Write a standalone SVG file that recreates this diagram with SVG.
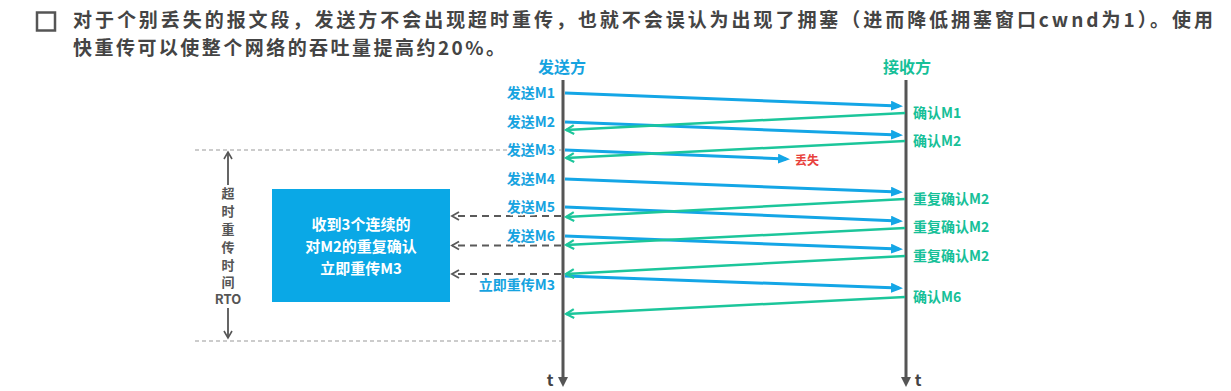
<svg xmlns="http://www.w3.org/2000/svg" width="1231" height="391" viewBox="0 0 1231 391">
<style>
text{font-family:"Noto Sans CJK SC","Noto Sans",sans-serif;font-weight:bold}
.title{font-size:19px;fill:#444}
.hdrS{font-size:16px;fill:#16a3e0;text-anchor:middle}
.hdrR{font-size:16px;fill:#16c098;text-anchor:middle}
.sl{font-size:14px;fill:#16a3e0;text-anchor:end;stroke:#fff;stroke-width:3;paint-order:stroke;stroke-linejoin:round}
.rl{font-size:14px;fill:#16c098;stroke:#fff;stroke-width:3;paint-order:stroke;stroke-linejoin:round}
.lost{font-size:12px;fill:#e8413c;stroke:#fff;stroke-width:3;paint-order:stroke;stroke-linejoin:round}
.box{font-size:15px;fill:#fff;text-anchor:middle}
.rto{font-size:13px;fill:#555;text-anchor:middle}
.t{font-size:16px;fill:#444;text-anchor:middle}
.blue{stroke:#14a6e6;stroke-width:3;fill:none;marker-end:url(#ab)}
.green{stroke:#1cc69b;stroke-width:2.5;fill:none;marker-end:url(#ag)}
.dash{stroke:#5a5a5a;stroke-width:2;stroke-dasharray:7 5;fill:none;marker-end:url(#ad)}
.thin{stroke:#9a9a9a;stroke-width:1.2;stroke-dasharray:4 3;fill:none}
.axis{stroke:#555;stroke-width:3;fill:none;marker-end:url(#ax)}
.rtoa{stroke:#555;stroke-width:1.8;fill:none;marker-end:url(#ar)}
</style>
<defs>
<marker id="ab" markerUnits="userSpaceOnUse" markerWidth="12" markerHeight="10" refX="8" refY="5" orient="auto"><path d="M0,0 L12,5 L0,10 z" fill="#14a6e6"/></marker>
<marker id="ag" markerUnits="userSpaceOnUse" markerWidth="12" markerHeight="12" refX="9" refY="6" orient="auto"><path d="M1,1.5 L9,6 L1,10.5" fill="none" stroke="#1cc69b" stroke-width="2.2"/></marker>
<marker id="ad" markerUnits="userSpaceOnUse" markerWidth="12" markerHeight="12" refX="9" refY="6" orient="auto"><path d="M2,2 L9,6 L2,10" fill="none" stroke="#5a5a5a" stroke-width="1.8"/></marker>
<marker id="ax" markerUnits="userSpaceOnUse" markerWidth="12" markerHeight="12" refX="6" refY="6" orient="auto"><path d="M0,1 L10,6 L0,11 z" fill="#555"/></marker>
<marker id="ar" markerUnits="userSpaceOnUse" markerWidth="12" markerHeight="12" refX="9" refY="6" orient="auto"><path d="M2,2 L9,6 L2,10" fill="none" stroke="#555" stroke-width="1.6"/></marker>
</defs>
<rect width="1231" height="391" fill="#fff"/>

<g id="title">
<rect x="37" y="12.5" width="18" height="18" fill="none" stroke="#555" stroke-width="2.5"/>
<text class="title" x="73" y="27" textLength="1140" lengthAdjust="spacing">对于个别丢失的报文段，发送方不会出现超时重传，也就不会误认为出现了拥塞（进而降低拥塞窗口cwnd为1）。使用</text>
<text class="title" x="73" y="55" textLength="432" lengthAdjust="spacing">快重传可以使整个网络的吞吐量提高约20%。</text>
</g>

<g id="sender">
<text class="hdrS" x="562" y="73">发送方</text>
<line class="axis" x1="563" y1="80" x2="563" y2="383"/>
<text class="t" x="550" y="386">t</text>
</g>
<g id="receiver">
<text class="hdrR" x="907" y="73">接收方</text>
<line class="axis" x1="906" y1="80" x2="906" y2="383"/>
<text class="t" x="918" y="386">t</text>
</g>

<g id="guides">
<line class="thin" x1="195" y1="150" x2="562" y2="150"/>
<line class="thin" x1="195" y1="341" x2="562" y2="341"/>
</g>

<g id="rto">
<line class="rtoa" x1="228" y1="185" x2="228" y2="152"/>
<line class="rtoa" x1="228" y1="308" x2="228" y2="338"/>
<text class="rto" x="228" y="198">超</text>
<text class="rto" x="228" y="216">时</text>
<text class="rto" x="228" y="234">重</text>
<text class="rto" x="228" y="252">传</text>
<text class="rto" x="228" y="270">时</text>
<text class="rto" x="228" y="287">间</text>
<text class="rto" x="228" y="304">RTO</text>
</g>

<g id="fastbox">
<rect x="272" y="189" width="178" height="113" fill="#0aa8e6"/>
<text class="box" x="361" y="230">收到3个连续的</text>
<text class="box" x="361" y="252">对M2的重复确认</text>
<text class="box" x="361" y="274">立即重传M3</text>
</g>

<g id="connectors">
<line class="blue" x1="565" y1="93" x2="899" y2="106"/>
<line class="blue" x1="565" y1="122" x2="899" y2="135"/>
<line class="blue" x1="565" y1="150" x2="786" y2="159"/>
<line class="blue" x1="565" y1="179" x2="899" y2="192"/>
<line class="blue" x1="565" y1="207" x2="899" y2="221"/>
<line class="blue" x1="565" y1="236" x2="899" y2="249"/>
<line class="blue" x1="565" y1="276" x2="899" y2="288"/>
<line class="green" x1="905" y1="113" x2="566" y2="130"/>
<line class="green" x1="905" y1="141" x2="566" y2="158"/>
<line class="green" x1="905" y1="199" x2="566" y2="217"/>
<line class="green" x1="905" y1="228" x2="566" y2="245"/>
<line class="green" x1="905" y1="256" x2="566" y2="274"/>
<line class="green" x1="905" y1="297" x2="566" y2="314"/>
<line class="dash" x1="561" y1="216" x2="452" y2="216"/>
<line class="dash" x1="561" y1="245.5" x2="452" y2="245.5"/>
<line class="dash" x1="561" y1="274" x2="452" y2="274"/>
</g>

<g id="sendLabels">
<text class="sl" x="555" y="98">发送M1</text>
<text class="sl" x="555" y="127">发送M2</text>
<text class="sl" x="555" y="155">发送M3</text>
<text class="sl" x="555" y="184">发送M4</text>
<text class="sl" x="555" y="212">发送M5</text>
<text class="sl" x="555" y="241">发送M6</text>
<text class="sl" x="555" y="290">立即重传M3</text>
</g>
<g id="recvLabels">
<text class="rl" x="913" y="118">确认M1</text>
<text class="rl" x="913" y="146">确认M2</text>
<text class="rl" x="913" y="204">重复确认M2</text>
<text class="rl" x="913" y="232">重复确认M2</text>
<text class="rl" x="913" y="261">重复确认M2</text>
<text class="rl" x="913" y="302">确认M6</text>
<text class="lost" x="795" y="165">丢失</text>
</g>
</svg>
